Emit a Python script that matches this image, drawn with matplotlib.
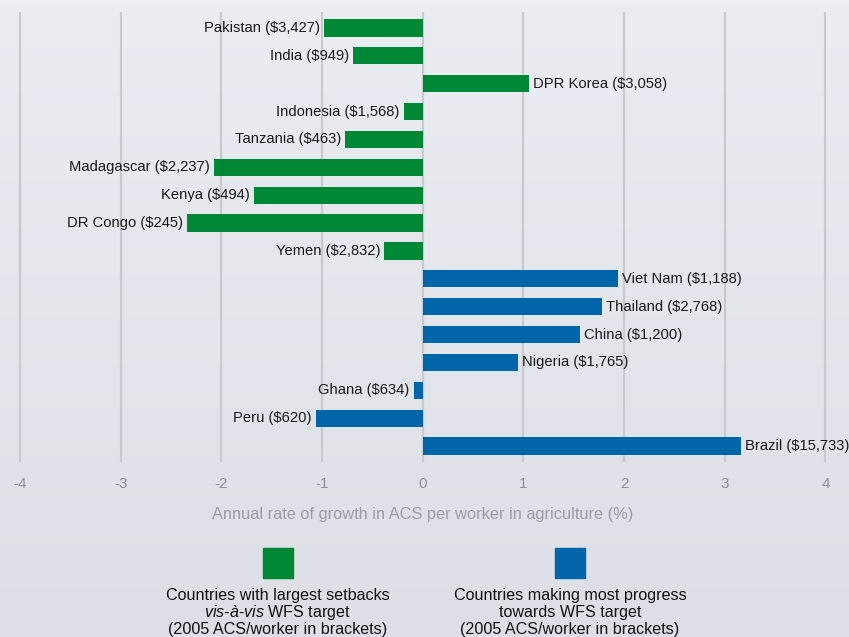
import matplotlib
matplotlib.use("Agg")
import matplotlib.pyplot as plt
import numpy as np
from matplotlib import colors

# data (top to bottom)
countries = ["Pakistan", "India", "DPR Korea", "Indonesia", "Tanzania",
             "Madagascar", "Kenya", "DR Congo", "Yemen",
             "Viet Nam", "Thailand", "China", "Nigeria", "Ghana", "Peru",
             "Brazil"]
acs_2005 = ["$3,427", "$949", "$3,058", "$1,568", "$463", "$2,237", "$494",
            "$245", "$2,832", "$1,188", "$2,768", "$1,200", "$1,765", "$634",
            "$620", "$15,733"]
growth = [-0.98, -0.69, 1.06, -0.19, -0.77, -2.07, -1.68, -2.34, -0.38,
          1.94, 1.78, 1.56, 0.95, -0.09, -1.06, 3.16]
group = ["setback"] * 9 + ["progress"] * 7

xticks = [-4, -3, -2, -1, 0, 1, 2, 3, 4]
xlabel = "Annual rate of growth in ACS per worker in agriculture (%)"
legend_text = {
    "setback": "Countries with largest setbacks\n"
               "$\\mathit{vis}$-$\\mathit{\u00e0}$-$\\mathit{vis}$ WFS target\n"
               "(2005 ACS/worker in brackets)",
    "progress": "Countries making most progress\n"
                "towards WFS target\n"
                "(2005 ACS/worker in brackets)",
}

GREEN = "#008837"
BLUE = "#0066a9"
bar_colors = {"setback": GREEN, "progress": BLUE}

plt.rcParams["font.family"] = ["Liberation Sans", "DejaVu Sans"]
plt.rcParams["mathtext.fontset"] = "custom"
plt.rcParams["mathtext.it"] = "Liberation Sans:italic"
plt.rcParams["mathtext.rm"] = "Liberation Sans"

W, H = 849, 637
fig = plt.figure(figsize=(W / 100, H / 100), dpi=100)

# background gradient
bg = fig.add_axes([0, 0, 1, 1], zorder=-10)
top = np.array(colors.to_rgb("#eaedf2"))
bot = np.array(colors.to_rgb("#dcdfe5"))
t = np.linspace(0, 1, 200)[:, None]
grad = (top * (1 - t) + bot * t)[:, None, :]
bg.imshow(grad, aspect="auto", extent=[0, 1, 0, 1])
bg.axis("off")

# main axes: x=-4.05 at px 14.9, x=4.05 at px 830.5; y from 12 to 462 px
x0, x1 = 14.9, 830.5
ax = fig.add_axes([x0 / W, 1 - 462 / H, (x1 - x0) / W, 450 / H])
ax.set_facecolor("none")
n = len(countries)
ypos = np.arange(n)
ax.set_xlim(-4.05, 4.05)
ax.set_ylim(n - 1 + 0.57, -0.57)

for x in xticks:
    ax.axvline(x, color="#c8cacd", lw=1.6, zorder=0)

for i in range(n):
    v = growth[i]
    ax.barh(ypos[i], v, height=0.62, color=bar_colors[group[i]], zorder=2)
    label = f"{countries[i]} ({acs_2005[i]})"
    if v < 0:
        ax.text(v - 0.04, ypos[i], label, ha="right", va="center",
                fontsize=10.6, color="#1a1a1a")
    else:
        ax.text(v + 0.04, ypos[i], label, ha="left", va="center",
                fontsize=10.6, color="#1a1a1a")

ax.set_xticks(xticks)
ax.set_xticklabels([str(x) for x in xticks])
ax.tick_params(axis="x", length=0, pad=11, labelsize=11, labelcolor="#8d9197")
ax.set_yticks([])
for s in ax.spines.values():
    s.set_visible(False)
ax.set_xlabel(xlabel, fontsize=11.8, color="#9a9ea4", labelpad=11)

# legend boxes with captions (mathtext line makes the left block taller)
for key, cx, ls in [("setback", 278, 1.0), ("progress", 570, 1.15)]:
    fig.patches.append(plt.Rectangle(((cx - 15) / W, 1 - 578 / H), 30 / W, 30 / H,
                                     transform=fig.transFigure,
                                     color=bar_colors[key]))
    fig.text(cx / W, 1 - 588 / H, legend_text[key], ha="center", va="top",
             fontsize=11.6, color="#111111", linespacing=ls)

fig.savefig("out.png", dpi=100, facecolor="#e9ecf1")
